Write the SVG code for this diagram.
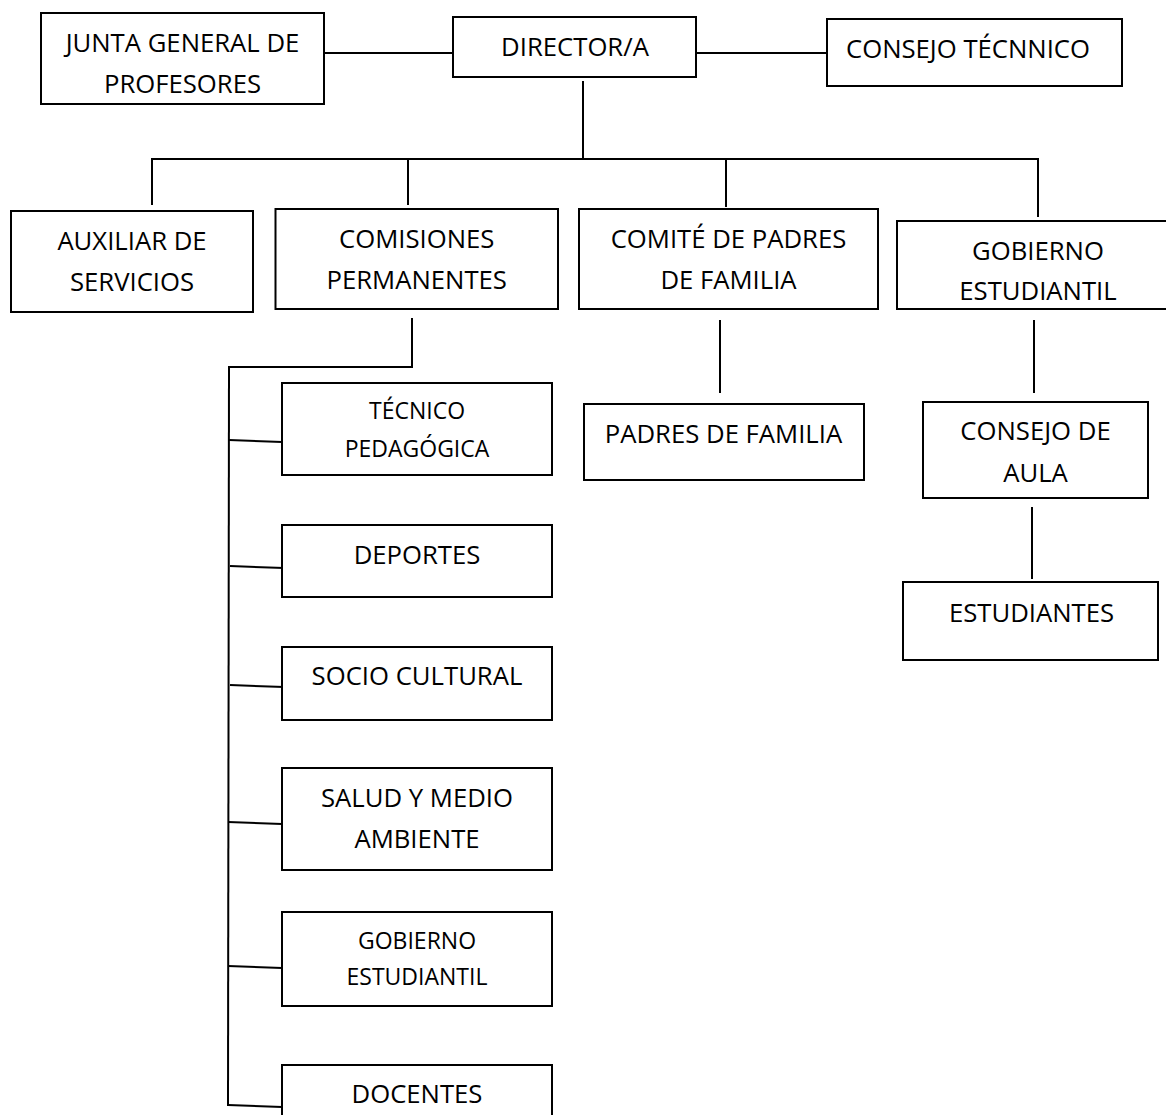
<svg xmlns="http://www.w3.org/2000/svg" width="1166" height="1115" viewBox="0 0 1166 1115">
<style>
rect.box{fill:#fff;stroke:#000;stroke-width:2}
.conn line{stroke:#000;stroke-width:2;stroke-linecap:butt}
text{font-family:"Open Sans","Noto Sans",sans-serif;font-size:25.7px;fill:#000;text-anchor:middle}
text.s{font-size:23px}
</style>
<rect width="1166" height="1115" fill="#fff"/>
<g id="connectors" class="conn">
<line x1="324" y1="53" x2="453" y2="53"/>
<line x1="696" y1="53" x2="827" y2="53"/>
<line x1="583" y1="81" x2="583" y2="159"/>
<line x1="151" y1="159" x2="1039" y2="159"/>
<line x1="152" y1="159" x2="152" y2="205"/>
<line x1="408" y1="159" x2="408" y2="205"/>
<line x1="726" y1="159" x2="726" y2="207"/>
<line x1="1038" y1="159" x2="1038" y2="217"/>
<line x1="412" y1="318" x2="412" y2="368"/>
<line x1="228" y1="367" x2="413" y2="367"/>
<line x1="229" y1="366" x2="228" y2="1106"/>
<line x1="229" y1="440" x2="282" y2="442"/>
<line x1="230" y1="566" x2="284" y2="568"/>
<line x1="230" y1="685" x2="284" y2="687"/>
<line x1="228" y1="822" x2="282" y2="824"/>
<line x1="228" y1="966" x2="282" y2="968"/>
<line x1="228" y1="1105" x2="282" y2="1107"/>
<line x1="720" y1="320" x2="720" y2="393"/>
<line x1="1034" y1="320" x2="1034" y2="393"/>
<line x1="1032" y1="507" x2="1032" y2="579"/>
</g>
<g id="junta"><rect class="box" x="41" y="13" width="283" height="91"/><text x="182.5" y="52">JUNTA GENERAL DE</text><text x="182.5" y="93">PROFESORES</text></g>
<g id="director"><rect class="box" x="453" y="17" width="243" height="60"/><text x="575" y="56">DIRECTOR/A</text></g>
<g id="consejo-tecnico"><rect class="box" x="827" y="19" width="295" height="67"/><text x="968" y="58">CONSEJO TÉCNNICO</text></g>
<g id="auxiliar"><rect class="box" x="11" y="211" width="242" height="101"/><text x="132" y="250">AUXILIAR DE</text><text x="132" y="291">SERVICIOS</text></g>
<g id="comisiones"><rect class="box" x="275.5" y="209" width="282.5" height="100"/><text x="416.7" y="248">COMISIONES</text><text x="416.7" y="289">PERMANENTES</text></g>
<g id="comite"><rect class="box" x="579" y="209" width="299" height="100"/><text x="728.5" y="248">COMITÉ DE PADRES</text><text x="728.5" y="289">DE FAMILIA</text></g>
<g id="gobierno-estudiantil"><rect class="box" x="897" y="221" width="280" height="88"/><text x="1038" y="260">GOBIERNO</text><text x="1038" y="300">ESTUDIANTIL</text></g>
<g id="tecnico-pedagogica"><rect class="box" x="282" y="383" width="270" height="92"/><text class="s" x="417" y="419">TÉCNICO</text><text class="s" x="417" y="457">PEDAGÓGICA</text></g>
<g id="deportes"><rect class="box" x="282" y="525" width="270" height="72"/><text x="417" y="564">DEPORTES</text></g>
<g id="socio-cultural"><rect class="box" x="282" y="647" width="270" height="73"/><text x="417" y="685">SOCIO CULTURAL</text></g>
<g id="salud"><rect class="box" x="282" y="768" width="270" height="102"/><text x="417" y="807">SALUD Y MEDIO</text><text x="417" y="848">AMBIENTE</text></g>
<g id="gobierno-comision"><rect class="box" x="282" y="912" width="270" height="94"/><text class="s" x="417" y="949">GOBIERNO</text><text class="s" x="417" y="985">ESTUDIANTIL</text></g>
<g id="docentes"><rect class="box" x="282" y="1065" width="270" height="60"/><text x="417" y="1103">DOCENTES</text></g>
<g id="padres"><rect class="box" x="584" y="404" width="280" height="76"/><text x="723.5" y="443">PADRES DE FAMILIA</text></g>
<g id="consejo-aula"><rect class="box" x="923" y="402" width="225" height="96"/><text x="1035.5" y="440">CONSEJO DE</text><text x="1035.5" y="482">AULA</text></g>
<g id="estudiantes"><rect class="box" x="903" y="582" width="255" height="78"/><text x="1031.5" y="622">ESTUDIANTES</text></g>
</svg>
